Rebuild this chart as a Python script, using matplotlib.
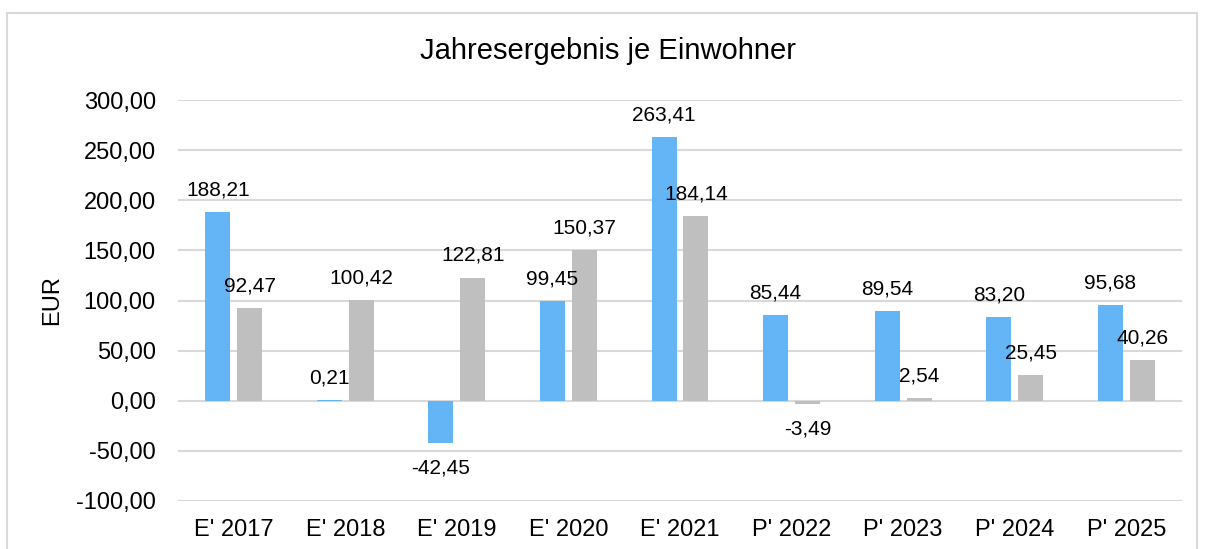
import matplotlib.pyplot as plt
import matplotlib.patches as patches
import numpy as np

categories = ["E' 2017", "E' 2018", "E' 2019", "E' 2020", "E' 2021",
              "P' 2022", "P' 2023", "P' 2024", "P' 2025"]
values_blue = [188.21, 0.21, -42.45, 99.45, 263.41, 85.44, 89.54, 83.20, 95.68]
values_gray = [92.47, 100.42, 122.81, 150.37, 184.14, -3.49, 2.54, 25.45, 40.26]
y_ticks = [-100, -50, 0, 50, 100, 150, 200, 250, 300]


def de_fmt(v):
    return f"{v:.2f}".replace(".", ",")


def build_graph():
    plt.rcParams['font.family'] = ['Liberation Sans', 'DejaVu Sans']

    fig = plt.figure(figsize=(12.06, 5.49), dpi=100)
    ax = fig.add_axes([178 / 1206, 1 - 501 / 549, (1182 - 178) / 1206, 401 / 549])

    # outer chart frame
    fig.patches.append(patches.Rectangle(
        (7 / 1206, -0.05), (1197 - 7) / 1206, 1 - 13 / 549 + 0.05,
        transform=fig.transFigure, fill=False, edgecolor="#D9D9D9", lw=1.5))

    x = np.arange(len(categories))
    width = 0.224
    offset = 0.143
    ax.bar(x - offset, values_blue, width, color="#64B5F6", zorder=2)
    ax.bar(x + offset, values_gray, width, color="#BFBFBF", zorder=2)

    for xs, vals in ((x - offset, values_blue), (x + offset, values_gray)):
        for xi, v in zip(xs, vals):
            dy = 16 if v >= 0 else -18
            ax.annotate(de_fmt(v), (xi, v), xytext=(0, dy), textcoords="offset points",
                        ha="center", va="center", fontsize=15, color="black")

    ax.set_xlim(-0.5, len(categories) - 0.5)
    ax.set_ylim(-100.2, 300.2)
    ax.set_yticks(y_ticks)
    ax.set_yticklabels([de_fmt(v) for v in y_ticks])
    ax.set_xticks(x)
    ax.set_xticklabels(categories)
    ax.tick_params(axis="y", length=0, pad=16, labelsize=17)
    ax.tick_params(axis="x", length=0, pad=13, labelsize=17)

    ax.grid(axis="y", color="#D9D9D9", lw=1.5, zorder=0)
    ax.set_axisbelow(True)
    for s in ax.spines.values():
        s.set_visible(False)

    ax.set_ylabel("EUR", fontsize=17)
    ax.yaxis.set_label_coords(-115 / 1004, 0.5)
    fig.text(608 / 1206, 1 - 51 / 549, "Jahresergebnis je Einwohner",
             ha="center", va="center", fontsize=21)

    fig.savefig("out.png", dpi=100)


if __name__ == "__main__":
    build_graph()
